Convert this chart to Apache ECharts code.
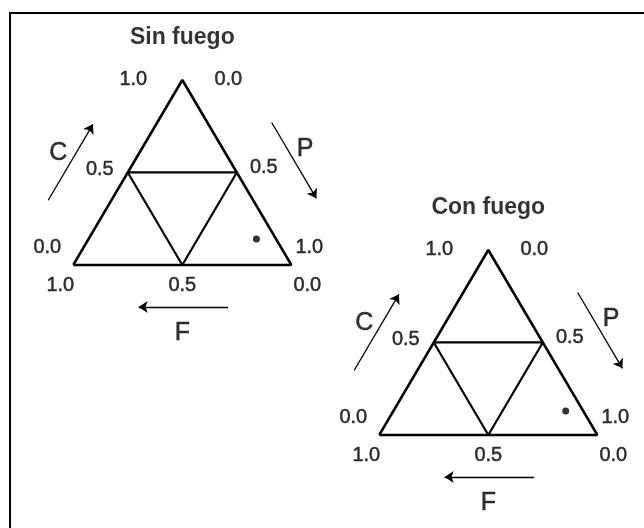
<!DOCTYPE html>
<html>
<head>
<meta charset="utf-8">
<script src="https://cdn.jsdelivr.net/npm/echarts@6/dist/echarts.min.js"></script>
<style>
html, body { margin: 0; padding: 0; background: #fff; }
#main { width: 644px; height: 528px; }
</style>
</head>
<body>
<div id="main"></div>
<script>
// datos: un punto por panel (fracciones C, P, F)
var panelTitles = ['Sin fuego', 'Con fuego'];
var cValues = [0.14, 0.13];
var pValues = [0.77, 0.79];
var fValues = [0.09, 0.08];
var axisNames = ['C', 'P', 'F'];
var tickValues = [0, 0.5, 1];
var tickLabels = ['0.0', '0.5', '1.0'];

var H = Math.sqrt(3) / 2;
// ternario -> x,y  (F abajo izq, P abajo der, C arriba)
function tern(c, p) {
    return [p + c / 2, c * H];
}

var font = 'Liberation Sans, Arial, sans-serif';
var chart = echarts.init(document.getElementById('main'));

// offsets de las etiquetas (px) por eje y tick
var offC = [[-26, -17], [-28, -3], [-49, 0]];
var offP = [[46, 0], [27, -5], [18, -17]];
var offF = [[16, 21], [0, 21], [-13, 21]];

var grids = [
    { left: 29.7, top: 30, width: 305.2, height: 320.4 },
    { left: 335.7, top: 200, width: 305.2, height: 320.4 }
];
var xAxes = [], yAxes = [], series = [];

function textItem(pos, text, off, size, bold) {
    return {
        value: pos,
        label: {
            show: true, position: 'inside', offset: off, formatter: text,
            color: '#000', fontSize: size, fontFamily: font,
            fontWeight: bold ? 'bold' : 'normal',
            textBorderColor: '#000', textBorderWidth: bold ? 0 : 0.5
        }
    };
}

for (var i = 0; i < panelTitles.length; i++) {
    xAxes.push({ gridIndex: i, type: 'value', min: -0.2, max: 1.2, show: false });
    yAxes.push({ gridIndex: i, type: 'value', min: -0.4, max: 1.1, show: false });

    // triangulo exterior
    series.push({
        type: 'line', xAxisIndex: i, yAxisIndex: i, symbol: 'none', silent: true,
        lineStyle: { color: '#000', width: 2.6 },
        data: [tern(0, 0), tern(0, 1), tern(1, 0), tern(0, 0)]
    });
    // triangulo interior (lineas 0.5)
    var m = tickValues[1];
    series.push({
        type: 'line', xAxisIndex: i, yAxisIndex: i, symbol: 'none', silent: true,
        lineStyle: { color: '#000', width: 2.2 },
        data: [tern(m, 0), tern(m, 1 - m), tern(0, 1 - m), tern(m, 0)]
    });
    // punto
    series.push({
        type: 'scatter', xAxisIndex: i, yAxisIndex: i, silent: true,
        symbolSize: 7, itemStyle: { color: '#000' },
        data: [tern(cValues[i], pValues[i])]
    });

    // etiquetas
    var txt = [];
    for (var k = 0; k < tickValues.length; k++) {
        var t = tickValues[k];
        txt.push(textItem(tern(t, 0), tickLabels[k], offC[k], 20));
        txt.push(textItem(tern(1 - t, t), tickLabels[k], offP[k], 20));
        txt.push(textItem(tern(0, 1 - t), tickLabels[k], offF[k], 20));
    }
    txt.push(textItem(tern(1, 0), panelTitles[i], [0, -42], 23, true));
    txt.push(textItem(tern(0.55, 0), axisNames[0], [-75, -10], 25));
    txt.push(textItem(tern(0.57, 0.43), axisNames[1], [76, -10], 25));
    txt.push(textItem(tern(0, 0.5), axisNames[2], [0, 68], 25));
    series.push({
        type: 'scatter', xAxisIndex: i, yAxisIndex: i, silent: true,
        symbolSize: 1, itemStyle: { color: 'rgba(0,0,0,0)' },
        data: txt
    });

    // flechas
    var a1 = tern(0.35, 0), a2 = tern(0.76, 0);
    var b1 = tern(0.77, 0.23), b2 = tern(0.36, 0.64);
    var c1 = tern(0, 0.71), c2 = tern(0, 0.30);
    series.push({
        type: 'lines', coordinateSystem: 'cartesian2d', xAxisIndex: i, yAxisIndex: i,
        silent: true, symbol: ['none', 'arrow'], symbolSize: 9,
        lineStyle: { color: '#000', width: 1.3, opacity: 1 },
        data: [
            { coords: [[a1[0] - 0.29, a1[1]], [a2[0] - 0.29, a2[1]]] },
            { coords: [[b1[0] + 0.295, b1[1]], [b2[0] + 0.295, b2[1]]] },
            { coords: [[c1[0], c1[1] - 0.197], [c2[0], c2[1] - 0.197]] }
        ]
    });
}

chart.setOption({
    animation: false,
    backgroundColor: '#fff',
    grid: grids,
    xAxis: xAxes,
    yAxis: yAxes,
    series: series,
    graphic: [{
        type: 'polyline', silent: true,
        shape: { points: [[10, 528], [10, 13], [644, 13]] },
        style: { stroke: '#000', lineWidth: 2, fill: null }
    }]
});
</script>
</body>
</html>
